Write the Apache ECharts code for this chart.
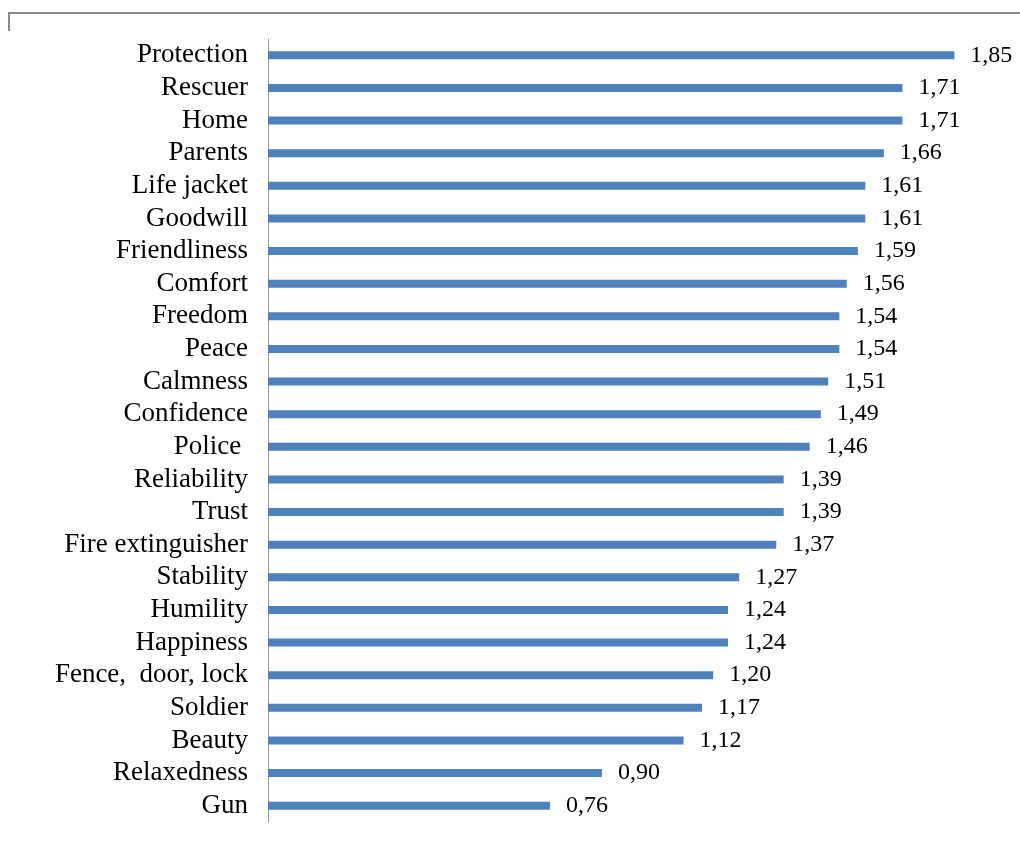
<!DOCTYPE html>
<html>
<head>
<meta charset="utf-8">
<script src="https://cdn.jsdelivr.net/npm/echarts@6/dist/echarts.min.js"></script>
<style>html,body{margin:0;padding:0;background:#fff;}#c{width:1020px;height:843px;}</style>
</head>
<body>
<div id="c"></div>
<script>
var categories = ["Protection","Rescuer","Home","Parents","Life jacket","Goodwill","Friendliness","Comfort","Freedom","Peace","Calmness","Confidence","Police ","Reliability","Trust","Fire extinguisher","Stability","Humility","Happiness","Fence,  door, lock","Soldier","Beauty","Relaxedness","Gun"];
var values = [1.85,1.71,1.71,1.66,1.61,1.61,1.59,1.56,1.54,1.54,1.51,1.49,1.46,1.39,1.39,1.37,1.27,1.24,1.24,1.20,1.17,1.12,0.90,0.76];

var chart = echarts.init(document.getElementById('c'));
var font = '"Liberation Serif","Times New Roman",serif';
chart.setOption({
  animation: false,
  grid: {left: 268, top: 39, width: 742, height: 783, containLabel: false},
  graphic: [
    {type: 'line', shape: {x1: 8, y1: 13, x2: 1020, y2: 13}, style: {stroke: '#8a8a8a', lineWidth: 2}},
    {type: 'line', shape: {x1: 9, y1: 13, x2: 9, y2: 31}, style: {stroke: '#8a8a8a', lineWidth: 2}}
  ],
  xAxis: {type: 'value', min: 0, max: 2, show: false},
  yAxis: {
    type: 'category', data: categories, inverse: true,
    axisLine: {show: true, lineStyle: {color: '#999', width: 1}},
    axisTick: {show: false},
    axisLabel: {color: '#000', fontFamily: font, fontSize: 27, margin: 20, interval: 0}
  },
  series: [{
    type: 'bar', data: values, barWidth: 8,
    itemStyle: {color: '#4F81BD'},
    label: {show: true, position: 'right', distance: 16, color: '#000', fontFamily: font, fontSize: 24,
      formatter: function(p){ return p.value.toFixed(2).replace('.', ','); }}
  }]
});
</script>
</body>
</html>
